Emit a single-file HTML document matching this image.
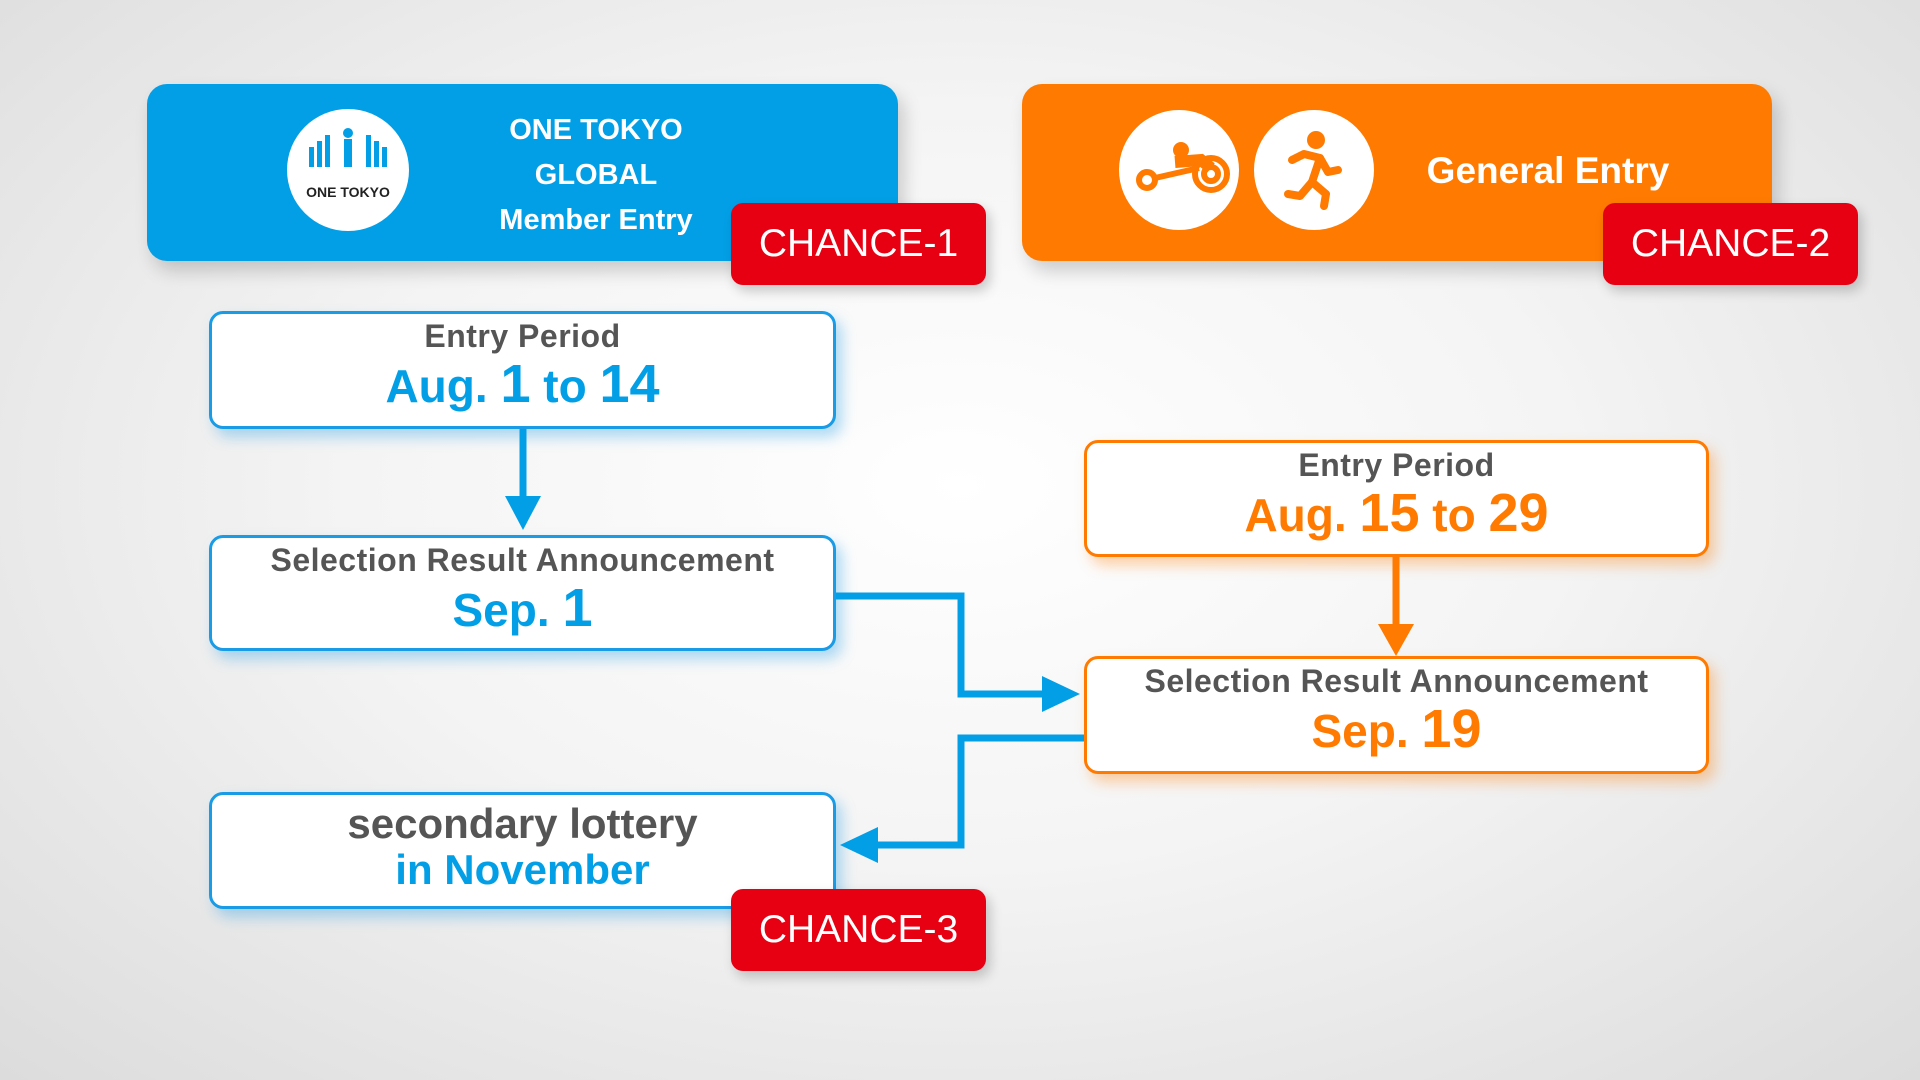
<!DOCTYPE html>
<html><head><meta charset="utf-8"><style>
*{margin:0;padding:0;box-sizing:border-box}
body{width:1920px;height:1080px;overflow:hidden;font-family:"Liberation Sans","DejaVu Sans",sans-serif;background:radial-gradient(ellipse at 50% 45%,#ffffff 0%,#f4f4f4 45%,#dcdcdc 100%);position:relative}
.abs{position:absolute}
.hdr{border-radius:20px;box-shadow:6px 10px 18px rgba(0,0,0,.18)}
.chance{background:#e60012;color:#fff;border-radius:12px;font-size:39px;display:flex;align-items:center;justify-content:center;box-shadow:4px 6px 12px rgba(0,0,0,.2)}
.box{background:#fff;border:3px solid;border-radius:14px;text-align:center;font-weight:bold}
.blue{border-color:#1a9be6;box-shadow:6px 8px 14px rgba(26,155,230,.35)}
.or{border-color:#ff7a00;box-shadow:6px 8px 14px rgba(255,122,0,.35)}
.l1{color:#555;font-size:32px;line-height:38px;margin-top:3px;letter-spacing:.5px}
.l2{font-size:46px;line-height:58px}
.big{font-size:54px}
.circ{background:#fff;border-radius:50%}
</style></head><body>
<div class="abs hdr" style="left:147px;top:84px;width:751px;height:177px;background:#039fe6"></div>
<div class="abs circ" style="left:287px;top:109px;width:122px;height:122px;text-align:center">
<svg width="122" height="80" viewBox="0 0 122 80"><g fill="#039fe6"><rect x="22" y="38" width="5" height="20"/><rect x="30" y="32" width="5" height="26"/><rect x="38" y="26" width="5" height="32"/><circle cx="61" cy="24" r="5"/><rect x="57" y="30" width="8" height="28"/><rect x="79" y="26" width="5" height="32"/><rect x="87" y="32" width="5" height="26"/><rect x="95" y="38" width="5" height="20"/></g></svg>
<div style="font-size:14px;color:#222;margin-top:-10px;font-weight:bold">ONE TOKYO</div></div>
<div class="abs" style="left:440px;top:108px;width:312px;text-align:center;color:#fff;font-weight:bold;font-size:29px;line-height:45px">ONE TOKYO<br>GLOBAL<br>Member Entry</div>
<div class="abs chance" style="left:731px;top:203px;width:255px;height:82px">CHANCE-1</div>

<div class="abs hdr" style="left:1022px;top:84px;width:750px;height:177px;background:#ff7a00"></div>
<div class="abs circ" style="left:1119px;top:110px;width:120px;height:120px"><svg width="120" height="120" viewBox="0 0 120 120" fill="none" stroke="#ff7a00" stroke-width="6"><circle cx="92" cy="64" r="16"/><circle cx="92" cy="64" r="7"/><circle cx="28" cy="70" r="8"/><path d="M36 68 L80 58"/><circle cx="62" cy="40" r="8" fill="#ff7a00" stroke="none"/><path d="M56 52 L82 50 L92 58" stroke-width="12"/></svg></div>
<div class="abs circ" style="left:1254px;top:110px;width:120px;height:120px"><svg width="120" height="120" viewBox="0 0 120 120" fill="none" stroke="#ff7a00" stroke-width="8" stroke-linecap="round" stroke-linejoin="round"><circle cx="62" cy="30" r="9" fill="#ff7a00" stroke="none"/><path d="M38 50 L50 44 L66 48 L74 62 L84 60"/><path d="M66 48 L58 72 L72 84 L70 96"/><path d="M58 72 L46 86 L34 84"/></svg></div>
<div class="abs" style="left:1400px;top:150px;width:296px;text-align:center;color:#fff;font-weight:bold;font-size:37px">General Entry</div>
<div class="abs chance" style="left:1603px;top:203px;width:255px;height:82px">CHANCE-2</div>

<div class="abs box blue" style="left:209px;top:311px;width:627px;height:118px"><div class="l1">Entry Period</div><div class="l2" style="color:#039fe6">Aug. <span class="big">1</span> to <span class="big">14</span></div></div>
<div class="abs box blue" style="left:209px;top:535px;width:627px;height:116px"><div class="l1">Selection Result Announcement</div><div class="l2" style="color:#039fe6">Sep. <span class="big">1</span></div></div>
<div class="abs box blue" style="left:209px;top:792px;width:627px;height:117px"><div style="color:#555;font-size:42px;line-height:46px;margin-top:6px">secondary lottery</div><div style="color:#039fe6;font-size:42px;line-height:46px">in November</div></div>
<div class="abs chance" style="left:731px;top:889px;width:255px;height:82px">CHANCE-3</div>

<div class="abs box or" style="left:1084px;top:440px;width:625px;height:117px"><div class="l1">Entry Period</div><div class="l2" style="color:#ff7a00">Aug. <span class="big">15</span> to <span class="big">29</span></div></div>
<div class="abs box or" style="left:1084px;top:656px;width:625px;height:118px"><div class="l1">Selection Result Announcement</div><div class="l2" style="color:#ff7a00">Sep. <span class="big">19</span></div></div>

<svg class="abs" style="left:0;top:0" width="1920" height="1080">
<g stroke="#039fe6" stroke-width="7" fill="none"><path d="M523 429 V500"/><path d="M836 596 H961 V694 H1045"/><path d="M1084 738 H961 V845 H875"/></g>
<g fill="#039fe6"><path d="M505 496 L541 496 L523 530Z"/><path d="M1042 676 L1080 694 L1042 712Z"/><path d="M878 827 L840 845 L878 863Z"/></g>
<path d="M1396 557 V628" stroke="#ff7a00" stroke-width="7"/><path d="M1378 624 L1414 624 L1396 656Z" fill="#ff7a00"/>
</svg>
</body></html>
